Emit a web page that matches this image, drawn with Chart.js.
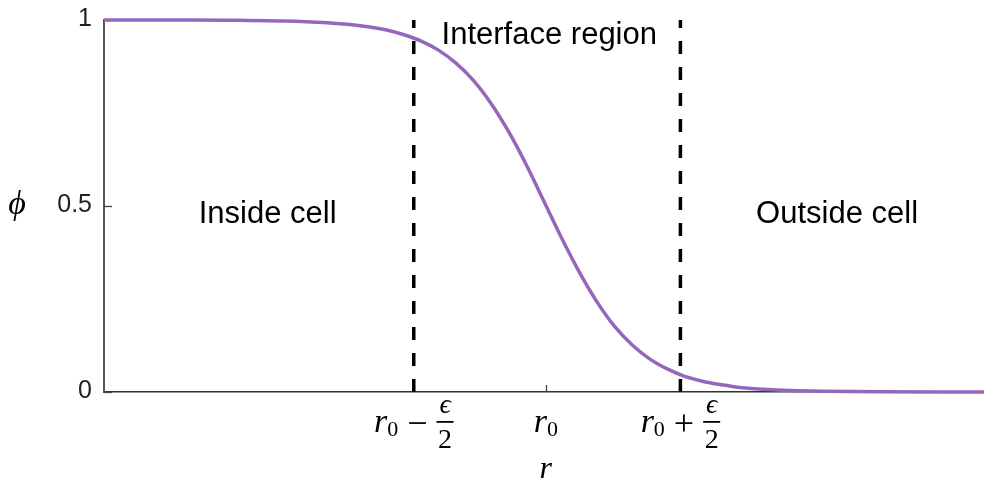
<!DOCTYPE html>
<html>
<head>
<meta charset="utf-8">
<script src="https://cdn.jsdelivr.net/npm/chart.js@4/dist/chart.umd.min.js"></script>
<style>
  html, body { margin: 0; padding: 0; background: #fff; }
  #wrap { width: 984px; height: 482px; position: relative; }
</style>
</head>
<body>
<div id="wrap"><canvas id="c" width="984" height="482"></canvas></div>
<script>
// Phase-field profile phi(r) across the cell membrane
const rSamples   = [0, 0.10, 0.15, 0.20, 0.25, 0.30, 0.32, 0.34, 0.36, 0.38, 0.40, 0.42, 0.44, 0.46, 0.48, 0.50, 0.52, 0.54, 0.56, 0.58, 0.60, 0.62, 0.64, 0.66, 0.68, 0.70, 0.72, 0.75, 0.78, 0.82, 0.88, 1.0];
const phiSamples = [1.0, 1.0, 0.999, 0.9975, 0.993, 0.982, 0.974, 0.961, 0.944, 0.919, 0.884, 0.837, 0.775, 0.699, 0.61, 0.512, 0.414, 0.323, 0.243, 0.177, 0.127, 0.089, 0.062, 0.042, 0.029, 0.02, 0.013, 0.0074, 0.004, 0.002, 0.0006, 0];

// Interface boundaries and centre
const rInner = 0.352;
const rCentre = 0.502;
const rOuter = 0.655;

// Axis ticks
const yTicks = [0, 0.5, 1];
const yTickLabels = ['0', '0.5', '1'];
const xTicks = [rInner, rCentre, rOuter];
const xTickOps = ['−', null, '+'];   // r0 − ϵ/2, r0, r0 + ϵ/2

// Region annotations: [text, r, phi(baseline)]
const regionLabels = [
  ['Inside cell', 0.186, 0.455],
  ['Interface region', 0.506, 0.935],
  ['Outside cell', 0.833, 0.455]
];

const curve = rSamples.map((r, i) => ({ x: r, y: phiSamples[i] }));
const vline = r => [{ x: r, y: 0 }, { x: r, y: 1 }];

const SERIF = "'Liberation Serif', 'DejaVu Serif', serif";
const SANS = "'Liberation Sans', Arial, sans-serif";

function drawMathLabel(ctx, cx, axisY, op) {
  const rFont = 'italic 34px ' + SERIF;
  const subFont = '22px ' + SERIF;
  const opFont = '36px ' + SERIF;
  const epsFont = 'italic 28px ' + SERIF;
  const twoFont = '28px ' + SERIF;
  const gap = 9;
  ctx.font = rFont; const wr = ctx.measureText('r').width;
  ctx.font = subFont; const w0 = ctx.measureText('0').width;
  let total = wr + w0, wop = 0, wfrac = 0;
  if (op) {
    ctx.font = opFont; wop = ctx.measureText(op).width;
    ctx.font = twoFont; const w2 = ctx.measureText('2').width;
    ctx.font = epsFont; const we = ctx.measureText('ϵ').width;
    wfrac = Math.max(w2, we) + 3;
    total += gap + wop + gap + wfrac;
  }
  let x = cx - total / 2;
  ctx.fillStyle = '#000';
  ctx.textAlign = 'left';
  ctx.textBaseline = 'alphabetic';
  ctx.font = rFont; ctx.fillText('r', x, axisY + 40); x += wr;
  ctx.font = subFont; ctx.fillText('0', x, axisY + 44); x += w0;
  if (op) {
    x += gap;
    ctx.font = opFont; ctx.fillText(op, x, axisY + 43); x += wop + gap;
    const fc = x + wfrac / 2;
    ctx.fillRect(x, axisY + 29, wfrac, 1.8);
    ctx.textAlign = 'center';
    ctx.font = epsFont; ctx.fillText('ϵ', fc, axisY + 21);
    ctx.font = twoFont; ctx.fillText('2', fc, axisY + 56);
  }
}

const axisDecor = {
  id: 'axisDecor',
  beforeDatasetsDraw(chart) {
    const { ctx, scales: { x, y } } = chart;
    ctx.save();
    ctx.strokeStyle = '#444';
    ctx.lineWidth = 1.3;
    yTicks.forEach(v => {
      const py = Math.round(y.getPixelForValue(v)) + 0.5;
      ctx.beginPath(); ctx.moveTo(x.left, py); ctx.lineTo(x.left + 8, py); ctx.stroke();
    });
    xTicks.forEach(v => {
      const px = Math.round(x.getPixelForValue(v)) + 0.5;
      ctx.beginPath(); ctx.moveTo(px, y.bottom); ctx.lineTo(px, y.bottom - 7); ctx.stroke();
    });
    ctx.restore();
  },
  afterDraw(chart) {
    const { ctx, scales: { x, y } } = chart;
    ctx.save();
    // y tick labels
    ctx.font = '25px ' + SANS;
    ctx.fillStyle = '#222';
    ctx.textAlign = 'right';
    ctx.textBaseline = 'alphabetic';
    yTicks.forEach((v, i) => {
      ctx.fillText(yTickLabels[i], x.left - 12, y.getPixelForValue(v) + 5.5);
    });
    // y axis title
    ctx.font = 'italic 34px ' + SERIF;
    ctx.fillStyle = '#000';
    ctx.textAlign = 'center';
    ctx.textBaseline = 'middle';
    ctx.fillText('ϕ', 17, y.getPixelForValue(0.5) - 1);
    // x tick labels
    xTicks.forEach((v, i) => drawMathLabel(ctx, x.getPixelForValue(v), y.bottom, xTickOps[i]));
    // x axis title
    ctx.font = 'italic 32px ' + SERIF;
    ctx.textAlign = 'center';
    ctx.textBaseline = 'alphabetic';
    ctx.fillText('r', x.getPixelForValue(rCentre), y.bottom + 86);
    // region annotations
    ctx.font = '31px ' + SANS;
    regionLabels.forEach(([t, r, p]) => {
      ctx.fillText(t, x.getPixelForValue(r), y.getPixelForValue(p));
    });
    ctx.restore();
  }
};

new Chart(document.getElementById('c'), {
  type: 'line',
  data: {
    datasets: [
      { data: curve, borderColor: '#9467bd', borderWidth: 3.5, pointRadius: 0,
        cubicInterpolationMode: 'monotone', clip: false, order: 0 },
      { data: vline(rInner), borderColor: '#000', borderWidth: 3.5, borderDash: [13, 13],
        pointRadius: 0, clip: false, order: 1 },
      { data: vline(rOuter), borderColor: '#000', borderWidth: 3.5, borderDash: [13, 13],
        pointRadius: 0, clip: false, order: 1 }
    ]
  },
  options: {
    responsive: false,
    animation: false,
    events: [],
    layout: { padding: { top: 20, right: 0, left: 0, bottom: 0 } },
    plugins: { legend: { display: false }, tooltip: { enabled: false } },
    scales: {
      x: {
        type: 'linear', min: 0, max: 1,
        grid: { display: false },
        ticks: { display: false },
        border: { display: true, color: '#333', width: 1.5 },
        afterFit(s) { s.height = 90; }
      },
      y: {
        type: 'linear', min: 0, max: 1,
        grid: { display: false },
        ticks: { display: false },
        border: { display: true, color: '#555', width: 2 },
        afterFit(s) { s.width = 104; }
      }
    }
  },
  plugins: [axisDecor]
});
</script>
</body>
</html>
